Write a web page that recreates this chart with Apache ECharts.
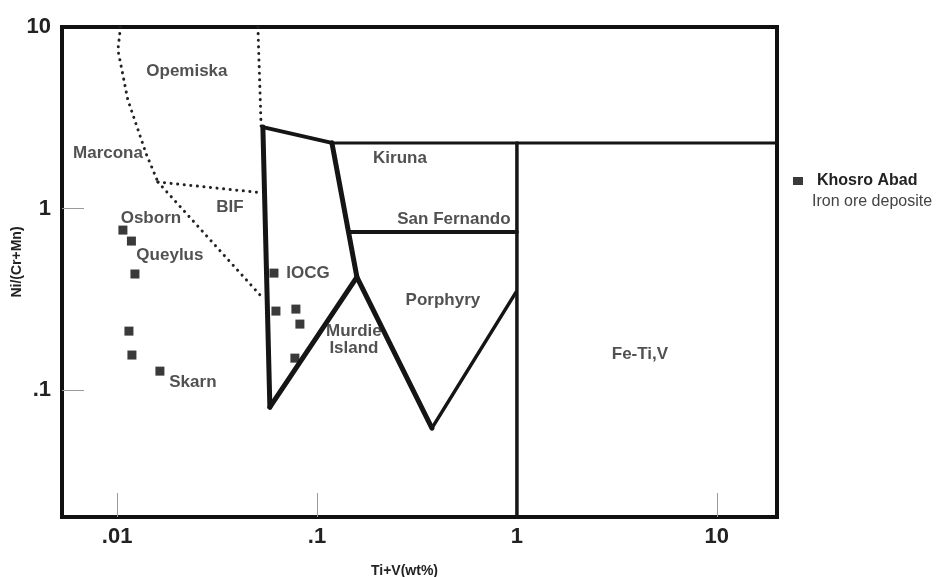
<!DOCTYPE html>
<html>
<head>
<meta charset="utf-8">
<script src="https://cdn.jsdelivr.net/npm/echarts@6/dist/echarts.min.js"></script>
<style>
  html, body { margin: 0; padding: 0; background: #fff; }
  #chart { width: 938px; height: 577px; }
</style>
</head>
<body>
<div id="chart"></div>
<script>
// ---- axis ticks ----
const xTickValues = [0.01, 0.1, 1, 10];
const xTickLabels = ['.01', '.1', '1', '10'];
const xTickMarks = [0.01, 0.1, 10];
const yTickValues = [10, 1, 0.1];
const yTickLabels = ['10', '1', '.1'];
const yTickMarks = [1, 0.1];

// ---- field boundaries (dotted) ----
const opemiskaMarconaLine = [[0.0104, 10], [0.01009, 7.47], [0.01132, 3.96], [0.01393, 2.02], [0.0160, 1.40]];
const bifUpperLine = [[0.0160, 1.40], [0.0536, 1.22]];
const bifLowerLine = [[0.0160, 1.40], [0.0536, 0.321]];
const opemiskaKirunaLine = [[0.0506, 10], [0.0525, 2.85]];

// ---- field boundaries (solid) ----
const iocgLeftLine = [[0.0536, 2.81], [0.0581, 0.0806]];
const iocgTopLine = [[0.0536, 2.81], [0.1187, 2.30]];
const kirunaLeftLine = [[0.1187, 2.30], [0.1583, 0.4195]];
const murdieLine = [[0.0581, 0.0806], [0.1583, 0.4195], [0.3756, 0.0617]];
const porphyryRightLine = [[0.3756, 0.0617], [0.99, 0.3467]];
const kirunaTopLine = [[0.1187, 2.30], [20, 2.30]];
const sanFernandoLine = [[0.146, 0.742], [1, 0.742]];
const feTiVLine = [[1, 2.30], [1, 0.02]];

// ---- Khosro Abad samples ----
const sampleX = [0.01069, 0.01179, 0.01228, 0.01146, 0.01186, 0.01637, 0.0609, 0.0623, 0.0784, 0.0821, 0.0775];
const sampleY = [0.761, 0.662, 0.436, 0.2113, 0.156, 0.1272, 0.441, 0.2724, 0.2794, 0.231, 0.150];

// ---- field names ----
const regionNames = ['Opemiska', 'Marcona', 'BIF', 'Osborn', 'Queylus', 'Skarn', 'IOCG', 'Kiruna', 'San Fernando', 'Porphyry', 'Murdie\nIsland', 'Fe-Ti,V'];
const regionX = [0.02234, 0.0090, 0.03666, 0.01476, 0.01837, 0.02394, 0.0901, 0.26, 0.4841, 0.4264, 0.153, 4.124];
const regionY = [5.72, 2.022, 1.019, 0.886, 0.5544, 0.1107, 0.441, 1.898, 0.875, 0.313, 0.1886, 0.158];

const FONT = '"Liberation Sans", Arial, sans-serif';
const LINE = '#151515';

function solid(data, width) {
  return {
    type: 'line', data: data, symbol: 'none', silent: true, animation: false, z: 5,
    lineStyle: { color: LINE, width: width, cap: 'round', join: 'round' }
  };
}
function dotted(data) {
  return {
    type: 'line', data: data, symbol: 'none', silent: true, animation: false, z: 4,
    lineStyle: { color: '#222', width: 3, type: [0.1, 6.5], cap: 'round' }
  };
}

const chart = echarts.init(document.getElementById('chart'), null, { renderer: 'canvas' });
chart.setOption({
  animation: false,
  backgroundColor: '#fff',
  grid: {
    left: 62, right: 161, top: 27, bottom: 60,
    show: true, borderColor: '#111', borderWidth: 4, backgroundColor: 'transparent',
    containLabel: false, outerBoundsMode: 'none'
  },
  xAxis: {
    type: 'log', logBase: 10, min: 0.0053, max: 20,
    splitLine: { show: false },
    axisLine: { show: false },
    axisTick: { show: true, inside: true, length: 24, customValues: xTickMarks, lineStyle: { color: '#9a9a9a', width: 1 } },
    axisLabel: {
      customValues: xTickValues,
      formatter: function (v) { const i = xTickValues.indexOf(v); return i >= 0 ? xTickLabels[i] : ''; },
      margin: 9, color: '#222', fontSize: 22, fontWeight: 'bold', fontFamily: FONT
    }
  },
  yAxis: {
    type: 'log', logBase: 10, min: 0.02, max: 10,
    splitLine: { show: false },
    axisLine: { show: false },
    axisTick: { show: true, inside: true, length: 22, customValues: yTickMarks, lineStyle: { color: '#9a9a9a', width: 1 } },
    axisLabel: {
      customValues: yTickValues,
      formatter: function (v) { const i = yTickValues.indexOf(v); return i >= 0 ? yTickLabels[i] : ''; },
      margin: 11, color: '#222', fontSize: 22, fontWeight: 'bold', fontFamily: FONT
    }
  },
  legend: {
    data: ['Khosro Abad'],
    left: 788, top: 168,
    icon: 'rect', itemWidth: 10, itemHeight: 8,
    selectedMode: false,
    textStyle: { color: '#222', fontSize: 16, fontWeight: 'bold', fontFamily: FONT, padding: [0, 0, 0, 9] }
  },
  graphic: [
    { type: 'text', left: 812, top: 194, silent: true,
      style: { text: 'Iron ore deposite', fill: '#444', fontSize: 16, fontFamily: FONT } },
    { type: 'text', left: 371, top: 564, silent: true,
      style: { text: 'Ti+V(wt%)', fill: '#222', fontSize: 14, fontWeight: 'bold', fontFamily: FONT } },
    { type: 'text', x: 17, y: 262, rotation: Math.PI / 2, silent: true,
      style: { text: 'Ni/(Cr+Mn)', fill: '#222', fontSize: 14, fontWeight: 'bold', fontFamily: FONT, align: 'center', verticalAlign: 'middle' } }
  ],
  series: [
    dotted(opemiskaMarconaLine),
    dotted(bifUpperLine),
    dotted(bifLowerLine),
    dotted(opemiskaKirunaLine),
    solid(iocgLeftLine, 5),
    solid(iocgTopLine, 4),
    solid(kirunaLeftLine, 5),
    solid(murdieLine, 5),
    solid(porphyryRightLine, 3.5),
    solid(kirunaTopLine, 3),
    solid(sanFernandoLine, 4),
    solid(feTiVLine, 3.5),
    {
      name: 'Khosro Abad', type: 'scatter', symbol: 'rect', symbolSize: 9, z: 3, silent: true,
      itemStyle: { color: '#3a3a3a', opacity: 1 },
      data: sampleX.map(function (x, i) { return [x, sampleY[i]]; })
    },
    {
      type: 'scatter', symbolSize: 0, silent: true, z: 6,
      itemStyle: { color: '#fff' },
      data: regionNames.map(function (n, i) { return { name: n, value: [regionX[i], regionY[i]] }; }),
      label: {
        show: true, position: 'inside', formatter: '{b}',
        color: '#262626', textBorderWidth: 0, textBorderColor: 'transparent',
        fontSize: 17, fontWeight: 'bold', fontFamily: FONT, lineHeight: 17, align: 'center'
      }
    }
  ]
});
</script>
</body>
</html>
